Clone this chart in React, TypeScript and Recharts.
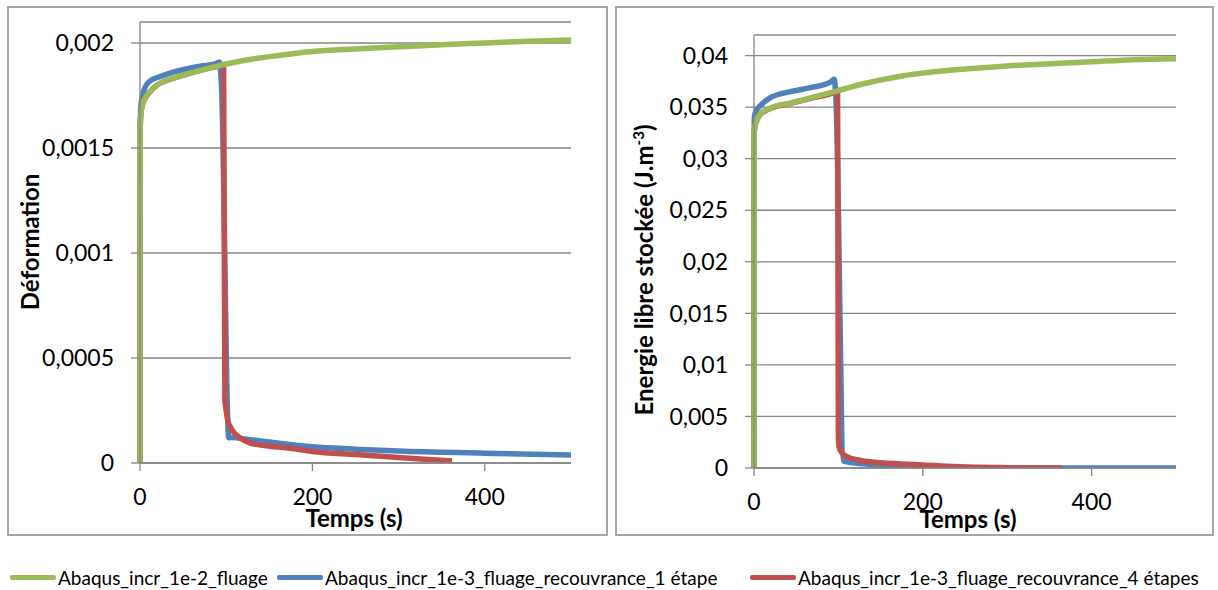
import { LineChart, Line, XAxis, YAxis, CartesianGrid } from 'recharts';

// Déformation (left panel)
const leftTimeGreen = [0, 0.3, 1, 2, 5, 10, 20, 30, 45, 70, 100, 125, 150, 200, 250, 300, 350, 400, 450, 500];
const leftStrainGreen = [0, 0.0016, 0.00166, 0.00169, 0.00173, 0.00176, 0.0018, 0.00182, 0.00184, 0.00187, 0.0019, 0.00192, 0.001935, 0.00196, 0.001972, 0.001982, 0.001992, 0.002, 0.002008, 0.002014];

const leftTimeBlue = [0, 0.3, 1, 3, 6, 12, 23, 46, 70, 87, 92, 94.5, 103, 106, 115, 130, 150, 200, 250, 300, 400, 500];
const leftStrainBlue = [0, 0.00163, 0.0017, 0.00175, 0.00179, 0.00182, 0.00184, 0.00187, 0.00189, 0.0019, 0.00191, 0.0018, 0.00012, 0.000122, 0.000118, 0.00011, 0.0001, 0.000077, 0.000066, 0.000057, 0.000047, 0.000038];

const leftTimeRed = [0, 0.3, 1, 2, 5, 10, 20, 30, 45, 70, 97, 98.5, 100, 102, 105, 108, 116, 128, 150, 174, 200, 250, 300, 330, 362];
const leftStrainRed = [0, 0.0016, 0.00166, 0.00169, 0.00173, 0.00176, 0.0018, 0.00182, 0.00184, 0.00187, 0.00189, 0.0003, 0.00025, 0.0002, 0.00017, 0.00015, 0.00012, 0.000095, 0.00008, 0.00007, 0.000055, 0.00004, 0.000026, 0.000018, 0.00001];

// Energie libre stockée (right panel)
const rightTimeGreen = [0, 0.3, 1, 3, 7, 19, 43, 67, 95, 126, 174, 200, 250, 300, 350, 400, 450, 500];
const rightEnergyGreen = [0, 0.0325, 0.0331, 0.0337, 0.0343, 0.0349, 0.0354, 0.0359, 0.0365, 0.0372, 0.038, 0.0383, 0.0387, 0.039, 0.0392, 0.0394, 0.0396, 0.0397];

const rightTimeBlue = [0, 0.3, 1, 3, 7, 19, 43, 67, 90, 95, 97, 106, 110, 130, 150, 200, 250, 300, 400, 500];
const rightEnergyBlue = [0, 0.0338, 0.0343, 0.0347, 0.0351, 0.0359, 0.0365, 0.0369, 0.0374, 0.0377, 0.036, 0.0007, 0.0006, 0.0004, 0.00025, 0.0001, 0.00004, 0.00001, 0, 0];

const rightTimeRed = [0, 0.3, 1, 3, 7, 19, 43, 67, 95, 99, 100, 101, 104, 110, 125, 150, 174, 200, 250, 300, 364];
const rightEnergyRed = [0, 0.0325, 0.03306, 0.03366, 0.03426, 0.03486, 0.03536, 0.03586, 0.03646, 0.03665, 0.003, 0.002, 0.0015, 0.0011, 0.00075, 0.0005, 0.0004, 0.0003, 0.0001, 0.00003, 0];

const xTicks = [0, 200, 400];
const leftYTicks = [0, 0.0005, 0.001, 0.0015, 0.002];
const rightYTicks = [0, 0.005, 0.01, 0.015, 0.02, 0.025, 0.03, 0.035, 0.04];

const seriesNames = [
  'Abaqus_incr_1e-2_fluage',
  'Abaqus_incr_1e-3_fluage_recouvrance_1 étape',
  'Abaqus_incr_1e-3_fluage_recouvrance_4 étapes',
];
const GREEN = '#9bbb59';
const BLUE = '#4f81bd';
const RED = '#c0504d';
const GRID = '#868686';
const FONT = 'Lato, "Open Sans", sans-serif';

const toPoints = (ts: number[], vs: number[]) => ts.map((t, i) => ({ t, v: vs[i] }));
const fmt = (v: number) => String(v).replace('.', ',');

interface PanelProps {
  left: number;
  width: number;
  margin: { top: number; right: number; bottom: number; left: number };
  yMax: number;
  yTicks: number[];
  green: { t: number; v: number }[];
  blue: { t: number; v: number }[];
  red: { t: number; v: number }[];
}

function Panel({ left, width, margin, yMax, yTicks, green, blue, red }: PanelProps) {
  const tick = { fill: '#000', fontSize: 23, fontFamily: FONT };
  return (
    <div style={{ position: 'absolute', left, top: 0 }}>
      <LineChart width={width} height={540} margin={margin}>
        <CartesianGrid vertical={false} stroke={GRID} strokeWidth={1.3} />
        <XAxis
          type="number"
          dataKey="t"
          domain={[0, 500]}
          ticks={xTicks}
          tick={tick}
          tickSize={8}
          tickMargin={18}
          height={30}
          stroke={GRID}
          strokeWidth={1.3}
        />
        <YAxis
          type="number"
          domain={[0, yMax]}
          ticks={yTicks}
          tickFormatter={fmt}
          tick={tick}
          tickSize={9}
          tickMargin={17}
          width={100}
          stroke={GRID}
          strokeWidth={1.3}
          allowDataOverflow
        />
        <Line data={blue} dataKey="v" type="monotone" stroke={BLUE} strokeWidth={5.5} dot={false} isAnimationActive={false} strokeLinejoin="round" />
        <Line data={red} dataKey="v" type="monotone" stroke={RED} strokeWidth={5.5} dot={false} isAnimationActive={false} strokeLinejoin="round" />
        <Line data={green} dataKey="v" type="monotone" stroke={GREEN} strokeWidth={5.5} dot={false} isAnimationActive={false} strokeLinejoin="round" />
      </LineChart>
    </div>
  );
}

const titleStyle = {
  position: 'absolute' as const,
  fontFamily: FONT,
  fontWeight: 700,
  fontSize: 24,
  color: '#000',
  whiteSpace: 'nowrap' as const,
  lineHeight: 1,
};

export default function App() {
  const legendColors = [GREEN, BLUE, RED];
  const legendX = [10, 277, 750];
  return (
    <div style={{ position: 'absolute', left: 0, top: 0, width: 1218, height: 590, background: '#fff', overflow: 'hidden' }}>
      {/* panel frames */}
      <div style={{ position: 'absolute', left: 7, top: 6, width: 597, height: 526, border: '2px solid #a6a6a6' }} />
      <div style={{ position: 'absolute', left: 615, top: 6, width: 595, height: 526, border: '2px solid #a6a6a6' }} />

      <Panel
        left={0}
        width={606}
        margin={{ top: 22, right: 35, bottom: 47, left: 40 }}
        yMax={0.0021}
        yTicks={leftYTicks}
        green={toPoints(leftTimeGreen, leftStrainGreen)}
        blue={toPoints(leftTimeBlue, leftStrainBlue)}
        red={toPoints(leftTimeRed, leftStrainRed)}
      />
      <Panel
        left={606}
        width={612}
        margin={{ top: 35, right: 42, bottom: 42, left: 48 }}
        yMax={0.042}
        yTicks={rightYTicks}
        green={toPoints(rightTimeGreen, rightEnergyGreen)}
        blue={toPoints(rightTimeBlue, rightEnergyBlue)}
        red={toPoints(rightTimeRed, rightEnergyRed)}
      />

      {/* axis titles */}
      <div style={{ ...titleStyle, left: 30, top: 242, transform: 'translate(-50%, -50%) rotate(-90deg)' }}>Déformation</div>
      <div style={{ ...titleStyle, left: 643, top: 270, transform: 'translate(-50%, -50%) rotate(-90deg)' }}>
        Energie libre stockée (J.m<sup style={{ fontSize: 15 }}>-3</sup>)
      </div>
      <div style={{ ...titleStyle, left: 354, top: 518, transform: 'translate(-50%, -50%)' }}>Temps (s)</div>
      <div style={{ ...titleStyle, left: 968, top: 519, transform: 'translate(-50%, -50%)' }}>Temps (s)</div>

      {/* legend */}
      {seriesNames.map((name, i) => (
        <div key={name} style={{ position: 'absolute', left: legendX[i], top: 565, height: 24, display: 'flex', alignItems: 'center', fontFamily: FONT, fontSize: 19, color: '#000', whiteSpace: 'nowrap' }}>
          <span style={{ display: 'inline-block', width: 46, height: 5, background: legendColors[i], borderRadius: 2, marginRight: 2 }} />
          {name}
        </div>
      ))}
    </div>
  );
}
